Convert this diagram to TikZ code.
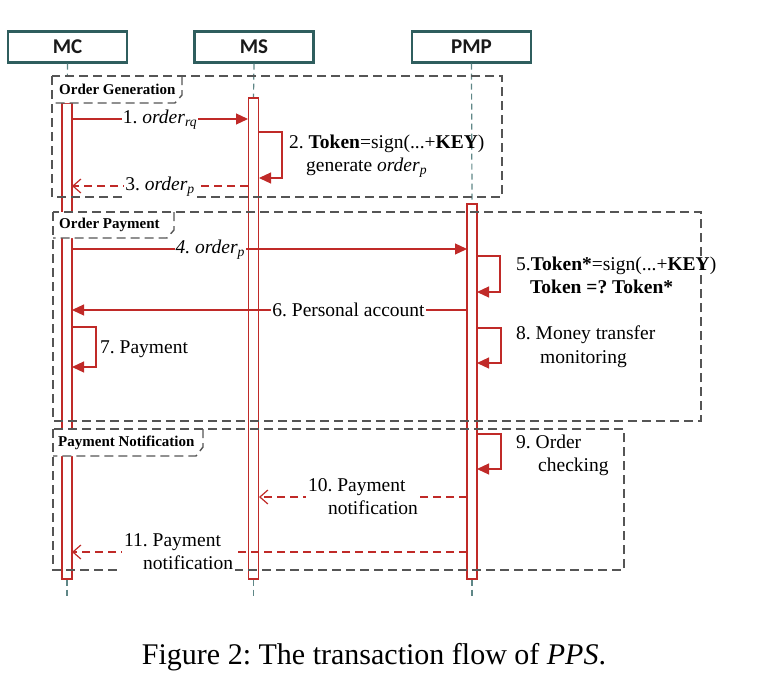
\documentclass[tikz,border=0pt]{standalone}
\usepackage{fontspec}
\setmainfont{Liberation Serif}
\newfontfamily\hdfont{Carlito}
\usetikzlibrary{arrows.meta}
\definecolor{teal1}{RGB}{47,94,94}
\definecolor{life}{RGB}{95,135,135}
\definecolor{red1}{RGB}{192,42,40}
\definecolor{frm}{RGB}{85,85,85}
\frenchspacing
\begin{document}
\begin{tikzpicture}[x=1pt,y=-1pt,
 head/.style={draw=teal1, fill=white, line width=2.2pt, minimum width=119pt, minimum height=31pt, inner sep=0pt, font=\hdfont\bfseries\fontsize{21}{24}\selectfont, text=black!90},
 lifeline/.style={draw=life, line width=1.2pt, dash pattern=on 6pt off 4pt},
 actbar/.style={draw=red1, fill=white, line width=1.2pt, minimum width=10pt, inner sep=0pt},
 msg/.style={draw=red1, line width=1.2pt, -{Triangle[length=12pt,width=11pt]}},
 ret/.style={draw=red1, line width=1.2pt, dash pattern=on 8pt off 5pt, -{Straight Barb[length=8pt,width=14pt]}},
 lbl/.style={font=\fontsize{19.5}{23}\selectfont, fill=white, inner sep=1pt},
 note/.style={font=\fontsize{19.5}{23.5}\selectfont, align=left, anchor=west, inner sep=0pt},
 frame/.style={draw=frm, line width=1.4pt, dash pattern=on 9pt off 5pt},
 tabtext/.style={font=\bfseries\fontsize{15}{16}\selectfont, anchor=west, inner sep=0pt},
]
\useasboundingbox (0,0) rectangle (763,675);

% heads
\node[head] (mc) at (67.5,47) {MC};
\node[head] (ms) at (254,47) {MS};
\node[head] (pmp) at (471.5,47) {PMP};

% activation bars
\node[actbar, minimum height=476pt] (mcbar) at (67,341) {};
\node[actbar, minimum height=481pt] (msbar) at (253.5,338.5) {};
\node[actbar, minimum height=375pt] (pmpbar) at (472,391.5) {};

\coordinate (mcend) at (67,596);
\coordinate (msend) at (253.5,596);
\coordinate (pmpend) at (472,596);

% lifelines
\draw[lifeline] (mc.south) -- (mcbar.north);
\draw[lifeline] (ms.south) -- (msbar.north);
\draw[lifeline] (pmp.south) -- (pmpbar.north);
\draw[lifeline] (mcbar.south) -- (mcend);
\draw[lifeline] (msbar.south) -- (msend);
\draw[lifeline] (pmpbar.south) -- (pmpend);
% redraw bars on top of lifelines
\node[actbar, minimum height=476pt] at (67,341) {};
\node[actbar, minimum height=481pt] at (253.5,338.5) {};
\node[actbar, minimum height=375pt] at (472,391.5) {};

% frame tab fills
\fill[white] (52,76) -- (182,76) -- (182,95) -- (175,103) -- (52,103) -- cycle;
\fill[white] (53,212) -- (174,212) -- (174,230) -- (167,238) -- (53,238) -- cycle;
\fill[white] (53,429) -- (203,429) -- (203,447) -- (196,456) -- (53,456) -- cycle;

% frames
\draw[frame] (52,76) rectangle (502,197);
\draw[frame] (182,76) -- (182,95) -- (175,103) -- (52,103);
\node[tabtext] (tab1) at (59,89.5) {Order Generation};

\draw[frame] (53,212) rectangle (701,421);
\draw[frame] (174,212) -- (174,230) -- (167,238) -- (53,238);
\node[tabtext] (tab2) at (59,225) {Order Payment};

\draw[frame] (53,429) rectangle (624,570);
\draw[frame] (203,429) -- (203,447) -- (196,456) -- (53,456);
\node[tabtext] (tab3) at (58,443) {Payment Notification};

% message coordinates
\coordinate (a1) at (72,119);   \coordinate (b1) at (248,119);
\coordinate (s2a) at (259,132); \coordinate (s2b) at (259,178);
\coordinate (a3) at (248,186);  \coordinate (b3) at (72,186);
\coordinate (a4) at (72,249);   \coordinate (b4) at (467,249);
\coordinate (s5a) at (477,256); \coordinate (s5b) at (477,292);
\coordinate (a6) at (467,310);  \coordinate (b6) at (72,310);
\coordinate (s7a) at (72,327);  \coordinate (s7b) at (72,367);
\coordinate (s8a) at (477,328); \coordinate (s8b) at (477,363);
\coordinate (s9a) at (477,434); \coordinate (s9b) at (477,469);
\coordinate (a10) at (467,497); \coordinate (b10) at (259,497);
\coordinate (a11) at (467,552); \coordinate (b11) at (72,552);

% messages
\draw[msg] (a1) -- node[lbl, pos=0.5, yshift=-1pt] (l1) {1. \textit{order}\textsubscript{\itshape rq}} (b1);
\draw[msg] (s2a) -- ++(23,0) |- (s2b);
\node[note] (l2) at (289,156) {2. \textbf{Token}=sign(...+\textbf{KEY})\\\hspace*{17pt}generate \textit{order}\textsubscript{\itshape p}};
\draw[ret] (a3) -- node[lbl, pos=0.5, yshift=-1pt] (l3) {3. \textit{order}\textsubscript{\itshape p}} (b3);

\draw[msg] (a4) -- node[lbl, pos=0.35, yshift=-1pt] (l4) {\textit{4. order}\textsubscript{\itshape p}} (b4);
\draw[msg] (s5a) -- ++(23,0) |- (s5b);
\node[note] (l5) at (516,275.5) {5.\textbf{Token*}=sign(...+\textbf{KEY})\\\hspace*{14pt}\textbf{Token =? Token*}};
\draw[msg] (a6) -- node[lbl, pos=0.30] (l6) {6. Personal account} (b6);
\draw[msg] (s7a) -- ++(24,0) |- (s7b);
\node[note] (l7) at (100,349) {7. Payment};
\draw[msg] (s8a) -- ++(24,0) |- (s8b);
\node[note] (l8) at (516,346.5) {8. Money transfer\\\hspace*{24pt}monitoring};

\draw[msg] (s9a) -- ++(24,0) |- (s9b);
\node[note] (l9) at (516,455.5) {9. Order\\\hspace*{22pt}checking};
\draw[ret] (a10) -- node[lbl, pos=0.50, align=left, inner sep=2pt] (l10) {10. Payment\\\hspace*{20pt}notification} (b10);
\draw[ret] (a11) -- node[lbl, pos=0.73, align=left, inner sep=2pt] (l11) {11. Payment\\\hspace*{19pt}notification} (b11);

% caption
\node[font=\fontsize{30}{35}\selectfont] (cap) at (374,657) {Figure 2: The transaction flow of \textit{PPS}.};
\end{tikzpicture}
\end{document}
